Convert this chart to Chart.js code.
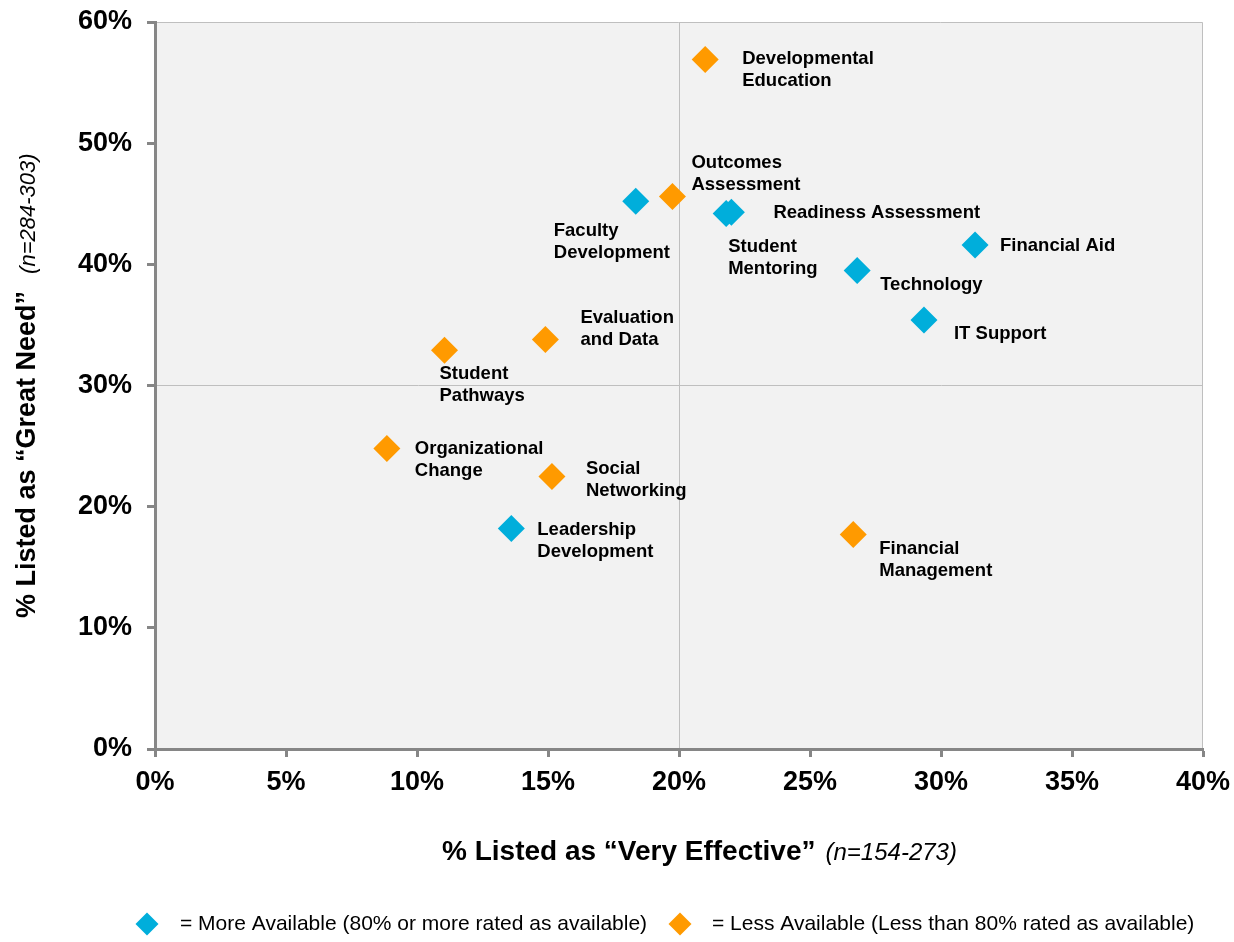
<!DOCTYPE html>
<html lang="en">
<head>
<meta charset="UTF-8">
<title>Great Need vs Very Effective</title>
<script src="https://cdn.jsdelivr.net/npm/chart.js@4.4.0/dist/chart.umd.min.js"></script>
<style>
  body { margin: 0; background: #fff; }
  #wrap { width: 1234px; height: 942px; }
</style>
</head>
<body>
<div id="wrap"><canvas id="chart" width="1234" height="942"></canvas></div>
<script>
// More available (80% or more rated as available)
const moreNames = ['Faculty\nDevelopment', 'Readiness Assessment', 'Student\nMentoring', 'Financial Aid',
                   'Technology', 'IT Support', 'Leadership\nDevelopment'];
const moreEffective = [18.35, 22.0, 21.8, 31.3, 26.8, 29.35, 13.6];
const moreNeed      = [45.2, 44.3, 44.2, 41.6, 39.5, 35.4, 18.2];

// Less available (less than 80% rated as available)
const lessNames = ['Developmental\nEducation', 'Outcomes\nAssessment', 'Evaluation\nand Data', 'Student\nPathways',
                   'Organizational\nChange', 'Social\nNetworking', 'Financial\nManagement'];
const lessEffective = [21.0, 19.75, 14.9, 11.05, 8.85, 15.15, 26.65];
const lessNeed      = [56.9, 45.6, 33.8, 32.9, 24.8, 22.5, 17.7];

const legendLabels = ['= More Available (80% or more rated as available)',
                      '= Less Available (Less than 80% rated as available)'];
const xTitle = ['% Listed as \u201cVery Effective\u201d', '(n=154-273)'];
const yTitle = ['% Listed as \u201cGreat Need\u201d', '(n=284-303)'];

const BLUE = '#00AEDB';
const ORANGE = '#FF9A00';
const AXIS = '#868686';
const FONT = 'Arial, "Liberation Sans", sans-serif';

// where each label's text sits relative to its diamond (left edge, first line centre)
const labelOffsets = {
  'Faculty\nDevelopment': [-82, 30],
  'Readiness Assessment': [42, 1],
  'Student\nMentoring': [2, 33],
  'Financial Aid': [25, 1],
  'Technology': [23, 15],
  'IT Support': [30, 14],
  'Leadership\nDevelopment': [26, 1],
  'Developmental\nEducation': [37, -1],
  'Outcomes\nAssessment': [19, -34],
  'Evaluation\nand Data': [35, -22],
  'Student\nPathways': [-5, 24],
  'Organizational\nChange': [28, 0],
  'Social\nNetworking': [34, -7],
  'Financial\nManagement': [26, 14]
};

const toPoints = (xs, ys) => xs.map((x, i) => ({ x: x, y: ys[i] }));

const plotBackground = {
  id: 'plotBackground',
  beforeDraw(chart) {
    const { ctx, chartArea: a } = chart;
    ctx.save();
    ctx.fillStyle = '#F2F2F2';
    ctx.fillRect(a.left, a.top, a.right - a.left, a.bottom - a.top);
    ctx.strokeStyle = '#BFBFBF';
    ctx.lineWidth = 1;
    ctx.beginPath();
    ctx.moveTo(a.left, a.top + 0.5);
    ctx.lineTo(a.right - 0.5, a.top + 0.5);
    ctx.lineTo(a.right - 0.5, a.bottom);
    ctx.stroke();
    ctx.restore();
  }
};

const pointLabels = {
  id: 'pointLabels',
  afterDatasetsDraw(chart) {
    const ctx = chart.ctx;
    ctx.save();
    ctx.font = 'bold 18.5px ' + FONT;
    ctx.fillStyle = '#000';
    ctx.textAlign = 'left';
    ctx.textBaseline = 'middle';
    chart.data.datasets.forEach((ds, i) => {
      chart.getDatasetMeta(i).data.forEach((pt, j) => {
        const name = ds.names[j];
        const off = labelOffsets[name] || [20, 0];
        name.split('\n').forEach((line, k) => {
          ctx.fillText(line, pt.x + off[0], pt.y + off[1] + k * 22);
        });
      });
    });
    ctx.restore();
  }
};

function drawMixed(ctx, parts, x, y, boldSize, italicSize, gap) {
  ctx.font = 'bold ' + boldSize + 'px ' + FONT;
  ctx.fillText(parts[0], x, y);
  const w = ctx.measureText(parts[0]).width;
  ctx.font = 'italic ' + italicSize + 'px ' + FONT;
  ctx.fillText(parts[1], x + w + gap, y);
}

function diamond(ctx, cx, cy, r, color) {
  ctx.fillStyle = color;
  ctx.beginPath();
  ctx.moveTo(cx - r, cy);
  ctx.lineTo(cx, cy - r);
  ctx.lineTo(cx + r, cy);
  ctx.lineTo(cx, cy + r);
  ctx.closePath();
  ctx.fill();
}

const titlesAndLegend = {
  id: 'titlesAndLegend',
  afterDraw(chart) {
    const ctx = chart.ctx;
    ctx.save();
    ctx.fillStyle = '#000';
    ctx.textAlign = 'left';
    ctx.textBaseline = 'alphabetic';
    drawMixed(ctx, xTitle, 442, 860, 28, 24, 10);

    ctx.save();
    ctx.translate(35, 618);
    ctx.rotate(-Math.PI / 2);
    drawMixed(ctx, yTitle, 0, 0, 27, 22, 17);
    ctx.restore();

    // legend
    const ly = 924;
    diamond(ctx, 147, ly, 11.5, BLUE);
    diamond(ctx, 680, ly, 11.5, ORANGE);
    ctx.fillStyle = '#000';
    ctx.font = '21px ' + FONT;
    ctx.textBaseline = 'middle';
    ctx.fillText(legendLabels[0], 180, ly);
    ctx.fillText(legendLabels[1], 712, ly);
    ctx.restore();
  }
};

new Chart(document.getElementById('chart'), {
  type: 'scatter',
  data: {
    datasets: [
      {
        label: 'More Available',
        names: moreNames,
        data: toPoints(moreEffective, moreNeed),
        pointStyle: 'rectRot',
        pointRadius: 13.5,
        pointHoverRadius: 13.5,
        backgroundColor: BLUE,
        borderColor: BLUE,
        borderWidth: 0
      },
      {
        label: 'Less Available',
        names: lessNames,
        data: toPoints(lessEffective, lessNeed),
        pointStyle: 'rectRot',
        pointRadius: 13.5,
        pointHoverRadius: 13.5,
        backgroundColor: ORANGE,
        borderColor: ORANGE,
        borderWidth: 0
      }
    ]
  },
  options: {
    responsive: false,
    animation: false,
    layout: { padding: { left: 0, right: 31, top: 22, bottom: 0 } },
    plugins: {
      legend: { display: false },
      tooltip: { enabled: false }
    },
    scales: {
      x: {
        type: 'linear',
        min: 0,
        max: 40,
        afterFit: (s) => { s.height = 193; s.paddingLeft = 0; s.paddingRight = 0; },
        ticks: {
          stepSize: 5,
          padding: 9,
          color: '#000',
          font: { family: FONT, size: 27, weight: 'bold' },
          callback: (v) => v + '%'
        },
        grid: {
          color: (c) => (c.tick && c.tick.value === 20 ? '#BFBFBF' : 'rgba(0,0,0,0)'),
          lineWidth: 1,
          tickColor: AXIS,
          tickWidth: 3,
          tickLength: 8
        },
        border: { color: AXIS, width: 3 }
      },
      y: {
        type: 'linear',
        min: 0,
        max: 60,
        afterFit: (s) => { s.width = 155; s.paddingTop = 0; s.paddingBottom = 0; },
        ticks: {
          stepSize: 10,
          padding: 15,
          color: '#000',
          font: { family: FONT, size: 27, weight: 'bold' },
          callback: (v) => v + '%'
        },
        grid: {
          color: (c) => (c.tick && c.tick.value === 30 ? '#BFBFBF' : 'rgba(0,0,0,0)'),
          lineWidth: 1,
          tickColor: AXIS,
          tickWidth: 3,
          tickLength: 8
        },
        border: { color: AXIS, width: 3 }
      }
    }
  },
  plugins: [plotBackground, pointLabels, titlesAndLegend]
});
</script>
</body>
</html>
